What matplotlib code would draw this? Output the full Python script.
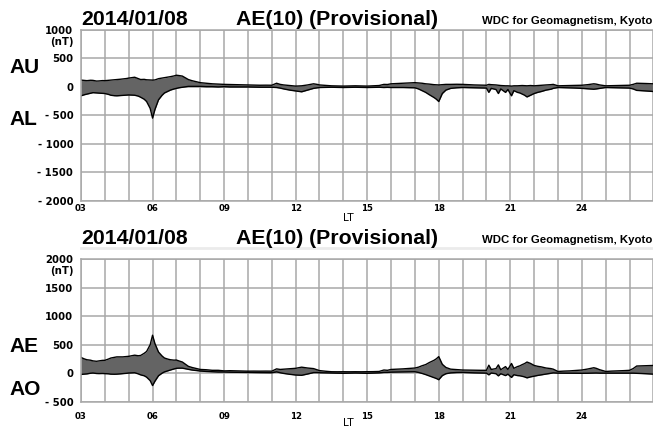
import numpy as np
import matplotlib.pyplot as plt

# hours (LT) and the AU / AL indices in nT
hours = [3.00, 3.15, 3.25, 3.40, 3.50, 3.65, 3.75, 3.90, 4.00, 4.15, 4.25, 4.40,
         4.50, 4.65, 4.75, 4.90, 5.00, 5.15, 5.25, 5.40, 5.50, 5.65, 5.75, 5.90,
         6.00, 6.10, 6.25, 6.40, 6.50, 6.65, 6.75, 6.90, 7.00, 7.10, 7.25, 7.40,
         7.50, 7.65, 7.75, 7.90, 8.00, 8.25, 8.50, 8.75, 9.00, 9.25, 9.50, 9.75,
         10.0, 10.25, 10.5, 10.75, 11.0, 11.2, 11.35, 11.5, 11.75, 12.0, 12.25,
         12.5, 12.75, 12.9, 13.0, 13.25, 13.5, 13.75, 14.0, 14.25, 14.5, 14.75,
         15.0, 15.25, 15.5, 15.7, 15.85, 16.0, 16.25, 16.5, 16.75, 17.0, 17.15,
         17.3, 17.45, 17.6, 17.8, 17.9, 18.0, 18.15, 18.3, 18.5, 18.75, 19.0,
         19.25, 19.5, 19.75, 20.0, 20.1, 20.2, 20.4, 20.5, 20.6, 20.8, 20.9,
         21.05, 21.15, 21.3, 21.4, 21.5, 21.6, 21.7, 21.85, 22.0, 22.15, 22.3,
         22.5, 22.7, 22.8, 23.0, 23.25, 23.5, 23.75, 24.0, 24.25, 24.5, 24.6,
         24.75, 25.0, 25.25, 25.5, 25.75, 26.0, 26.15, 26.3, 26.5, 26.7, 26.85,
         27.0]
au = [115, 108, 105, 112, 110, 98, 100, 106, 105, 112, 115, 120,
      125, 130, 135, 142, 150, 158, 165, 140, 125, 128, 120, 118,
      115, 118, 140, 150, 155, 165, 175, 188, 200, 195, 185, 150,
      125, 105, 95, 80, 70, 60, 50, 45, 40, 38, 35, 32,
      30, 28, 25, 26, 25, 60, 40, 30, 20, 10, 15,
      30, 50, 40, 30, 22, 15, 12, 10, 12, 15, 12,
      10, 15, 20, 40, 38, 50, 55, 60, 65, 70, 65,
      60, 50, 45, 35, 32, 30, 35, 40, 40, 42, 40,
      35, 30, 28, 25, 40, 35, 30, 25, 20, 15, 15,
      10, 15, 15, 18, 20, 18, 15, 20, 15, 20, 25,
      30, 35, 40, 15, 18, 20, 22, 25, 35, 50, 45,
      30, 15, 18, 20, 22, 25, 40, 60, 58, 55, 52,
      50]
al = [-160, -140, -130, -115, -105, -110, -115, -118, -120, -135, -150, -158,
      -160, -155, -150, -148, -145, -148, -150, -165, -185, -220, -260, -380,
      -550, -400, -230, -150, -110, -80, -60, -40, -30, -20, -10, 0,
      5, 5, 5, 5, 5, 0, 0, -5, 0, -5, -5, -5,
      -5, -8, -10, -10, -10, -15, -25, -40, -60, -75, -90,
      -60, -30, -20, -15, -12, -10, -12, -15, -12, -10, -12,
      -15, -12, -10, -15, -12, -15, -15, -15, -18, -20, -40,
      -70, -100, -140, -190, -220, -260, -120, -60, -30, -20, -15,
      -18, -20, -22, -25, -100, -30, -50, -120, -40, -100, -50,
      -160, -70, -100, -110, -130, -150, -180, -150, -120, -100, -85,
      -60, -45, -30, -15, -18, -20, -25, -30, -38, -45, -40,
      -30, -15, -18, -20, -22, -25, -40, -65, -70, -75, -80,
      -85]

hours = np.array(hours)
au = np.array(au)
al = np.array(al)
ae = au - al            # AE = AU - AL
ao = (au + al) / 2.0    # AO = (AU + AL) / 2

date_str = "2014/01/08"
title_str = "AE(10) (Provisional)"
credit = "WDC for Geomagnetism, Kyoto"
xticks = [3, 6, 9, 12, 15, 18, 21, 24]
xticklabels = ["03", "06", "09", "12", "15", "18", "21", "24"]

W, H = 653, 430
fig = plt.figure(figsize=(W / 100, H / 100), dpi=100)


def fx(x):
    return x / W


def fy(y):
    return 1 - y / H


FILL = "#646464"
GRID = "#a8a8a8"
head = dict(family="Liberation Sans", weight="bold")
tickfont = dict(family="DejaVu Sans", weight="bold", size=7.3)


def setup(ax, ymin, ymax, yticks, ylabels, xpad):
    ax.set_xlim(3, 27)
    ax.set_ylim(ymin, ymax)
    ax.set_xticks(np.arange(3, 28, 1), minor=True)
    ax.set_xticks(xticks)
    ax.set_xticklabels(xticklabels, fontfamily="DejaVu Sans", fontweight="bold", fontsize=6.2)
    ax.set_yticks(yticks)
    ax.set_yticklabels(ylabels, **tickfont)
    ax.tick_params(axis="both", which="both", length=0)
    ax.tick_params(axis="y", pad=5.5)
    ax.tick_params(axis="x", pad=xpad)
    ax.grid(True, which="both", color=GRID, lw=1.1)
    ax.set_axisbelow(True)
    for s in ["top", "left", "bottom"]:
        ax.spines[s].set_color(GRID)
        ax.spines[s].set_linewidth(1.1)
    ax.spines["right"].set_visible(False)


# top panel: AU / AL
ax1 = fig.add_axes([fx(81), fy(201), (653.4 - 81) / W, 171.5 / H])
ax1.fill_between(hours, au, al, color=FILL, lw=0)
ax1.plot(hours, au, color="black", lw=1.0)
ax1.plot(hours, al, color="black", lw=1.0)
setup(ax1, -2000, 1000, [-2000, -1500, -1000, -500, 0, 500, 1000],
      ["- 2000", "- 1500", "- 1000", "- 500", "0", "500", "1000"], 2.5)

# bottom panel: AE / AO
ax2 = fig.add_axes([fx(81), fy(401.7), (653.4 - 81) / W, 142.7 / H])
ax2.fill_between(hours, ae, ao, color=FILL, lw=0)
ax2.plot(hours, ae, color="black", lw=1.0)
ax2.plot(hours, ao, color="black", lw=1.0)
setup(ax2, -500, 2000, [-500, 0, 500, 1000, 1500, 2000],
      ["- 500", "0", "500", "1000", "1500", "2000"], 7.5)

# headers
for base in (25, 244):
    fig.text(fx(81), fy(base), date_str, size=15.3, va="baseline", **head)
    fig.text(fx(236), fy(base), title_str, size=15.3, va="baseline", **head)
    fig.text(fx(652), fy(base - 1), credit, size=8.2, ha="right", va="baseline", **head)
fig.add_artist(plt.Line2D([fx(81), 1], [fy(247.5), fy(247.5)], color="#ebebeb", lw=2))

# (nT) units under the top tick
fig.text(fx(74), fy(42), "(nT)", ha="right", va="center", **tickfont)
fig.text(fx(74), fy(271), "(nT)", ha="right", va="center", **tickfont)

# index names
fig.text(fx(9), fy(73), "AU", size=15, va="baseline", **head)
fig.text(fx(9), fy(125), "AL", size=15, va="baseline", **head)
fig.text(fx(9), fy(352), "AE", size=15, va="baseline", **head)
fig.text(fx(9), fy(395), "AO", size=15, va="baseline", **head)

# LT axis label
fig.text(fx(348), fy(218), "LT", ha="center", va="center", family="DejaVu Sans", size=7.5)
fig.text(fx(348), fy(423), "LT", ha="center", va="center", family="DejaVu Sans", size=7.5)

fig.savefig("out.png", dpi=100)
